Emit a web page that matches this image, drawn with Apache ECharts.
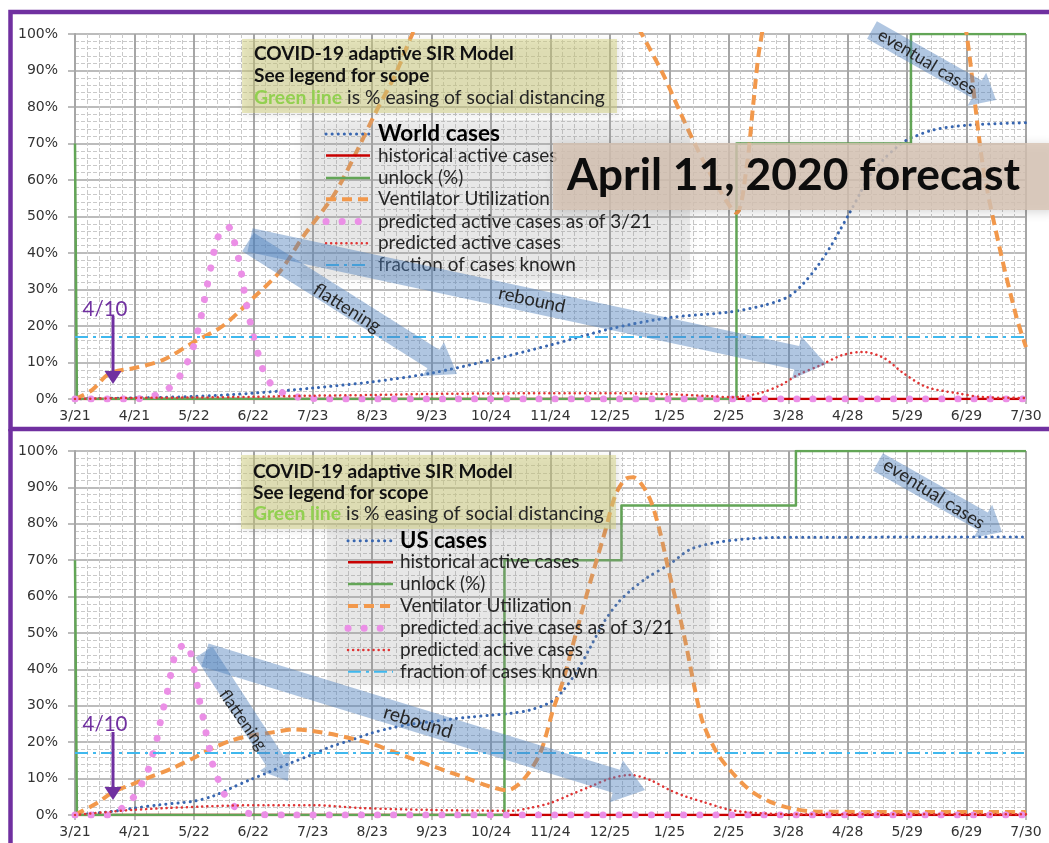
<!DOCTYPE html>
<html><head><meta charset="utf-8">
<script src="https://cdn.jsdelivr.net/npm/echarts@6/dist/echarts.min.js"></script>
<style>html,body{margin:0;padding:0;background:#fff}#c{width:1049px;height:843px}</style>
</head><body><div id="c"></div>
<script>
// ---------------- DATA (x = days since 3/21/2020, y = percent) ----------------
const tickLabels = ['3/21','4/21','5/22','6/22','7/23','8/23','9/23','10/24','11/24','12/25','1/25','2/25','3/28','4/28','5/29','6/29','7/30'];
const dayStep = 31;

// World panel
const worldCases = [[0,0],[31,0.3],[62,0.7],[93,1.6],[124,3],[155,4.7],[186,7.1],[217,10.7],[248,14.8],[279,19.2],[310,22.3],[341,23.8],[358,25.5],[372,28],[380,31.7],[387,36.2],[394,41.7],[399,46.3],[404,51],[409.5,56.4],[413,60],[421.5,65.5],[428.6,69],[434,71],[447.6,73.7],[465,75],[496,75.7]];
const worldHistorical = [[0,0],[496,0]];
const worldUnlock = [[0,70],[1,0],[345,0],[345,70],[436,70],[436,100],[496,100]];
const worldVent = [[0,0],[9,2.5],[18,7],[31,8.5],[46,10.7],[62,15.6],[77,20],[93,27.7],[107,35],[119,44.5],[135,55.9],[146,66.8],[157,78.7],[167,88.8],[176,100],[200,125],[235,140],[270,125],[295.6,100],[306.9,88.8],[315.6,78.6],[324.3,68.8],[334.7,58.6],[345,51],[350.4,64],[353.7,80.5],[357.3,97],[380,160],[420,180],[455,130],[465,100],[473.6,63.6],[482.5,40.8],[491,22.5],[496,14.2]];
const worldPred321 = [[0,0],[31,0],[38,0.5],[46.4,2],[53,5],[57,8.5],[60.5,12.3],[64.7,20],[67.8,28],[71,36.4],[74.6,44.4],[79.8,47.2],[83,43.3],[86.6,35],[89,27],[92.3,19],[96,11.5],[98.6,7.3],[103,3.6],[109.5,1.4],[117,0.5],[130,0],[496,0]];
const worldPred = [[0,0],[31,0.3],[62,0.4],[93,0.6],[124,0.9],[155,1.1],[186,1.4],[217,1.5],[248,1.6],[279,1.6],[310,1.3],[330,0.8],[343,0.5],[357,1.6],[368,3.8],[377,6.6],[389,9.3],[400,12],[411,12.9],[422,11.2],[432,7.1],[444,3.3],[460,1.6],[474,0.5],[496,0.3]];
const worldKnown = [[0,17],[496,17]];

// US panel
const usCases = [[0,0],[18,0.9],[31,1.9],[44,2.8],[62,3.8],[72,5.2],[81,7.3],[91,9.6],[101.7,11.9],[112,14.2],[122.6,16.4],[133,18.7],[143.5,20.5],[154,22.4],[164,23.8],[175,24.9],[185,25.6],[195.6,26.3],[206,26.9],[216.5,27.4],[227,27.9],[237,28.8],[248,31],[254.6,34.2],[262,39.7],[268.7,46],[275.4,52.6],[282.7,58],[289.6,61.6],[298.4,65.2],[310.4,69],[321,73],[335,74.9],[352,75.9],[373,76.3],[404,76.3],[439,76.4],[496,76.4]];
const usHistorical = [[0,0],[496,0]];
const usUnlock = [[0,70],[1,0],[224,0],[224,70],[285,70],[285,85],[376,85],[376,100],[496,100]];
const usVent = [[0,0],[1,0.3],[11.5,3.3],[19.8,6.3],[28.7,8.2],[39,10.4],[51,12.9],[61.6,15.6],[72,18.4],[82.4,20.6],[92.8,21.9],[103,22.7],[113.7,23.5],[124,23.1],[136.7,21.9],[154,19.7],[168,17],[185,13.7],[202.4,10.5],[216.5,7.8],[225.4,6.8],[233.7,9.6],[242.6,17],[249.3,28.8],[254.6,37],[259.8,47],[265,57],[270,66.3],[276.5,78],[281.7,87.7],[287,92.3],[291,92.8],[296,90.5],[300.5,86],[305,78],[310,66.3],[315.5,54.4],[319,46],[323.4,34.3],[327.6,25.2],[334.9,17],[341.7,12.3],[352,6.8],[362.6,3.6],[373,1.9],[387,0.9],[496,0.8]];
const usPred321 = [[0,0],[18,0],[26,2.5],[31.8,5.7],[35.5,9.3],[38.6,13],[40.7,17],[42.8,21],[44.3,25],[46,29],[48,33.4],[49.5,37.5],[51,41.4],[53.2,45.5],[58.4,46.8],[61,43],[62.5,39],[64,34.8],[65.2,30.7],[66.8,26.8],[68.3,22.7],[70,18.6],[71.5,14.5],[74,10.7],[77,6.6],[81,3.3],[88,0.8],[97.5,0.1],[110,0],[496,0]];
const usPred = [[0,0],[18.3,0.9],[30,1.4],[48,1.9],[65,2.3],[82.4,2.6],[100,2.7],[124,2.7],[150,1.9],[185,1.4],[216.5,1.2],[228.5,1.2],[237,1.9],[248,3.3],[258,5.5],[268.7,7.8],[279,10],[289.6,11],[300,9.6],[310.4,6.8],[319,5],[327.6,3.6],[341.7,1.4],[357,0.5],[378,0.2],[496,0.2]];
const usKnown = [[0,17],[496,17]];

const legendNames = ['historical active cases','unlock (%)','Ventilator Utilization','predicted active cases as of 3/21','predicted active cases','fraction of cases known'];

// ---------------- STYLES ----------------
const STY = {
  cases:  {color:'#3866b0', width:3,   type:[0.1,6],  cap:'round', smooth:0.3},
  hist:   {color:'#c80000', width:2.5, type:'solid',  cap:'butt',  smooth:false},
  unlock: {color:'#62a556', width:2.5, type:'solid',  cap:'butt',  smooth:false},
  vent:   {color:'#f2984b', width:4,   type:[10,6],   cap:'butt',  smooth:0.3},
  pred321:{color:'#eb8fe6', width:7,   type:[0.1,16], cap:'round', smooth:0.3},
  pred:   {color:'#e03434', width:2.5, type:[0.1,5],  cap:'round', smooth:0.3},
  known:  {color:'#3fb8ee', width:2,   type:[13,5,3,5], cap:'butt', smooth:false}
};
const order = ['cases','hist','unlock','vent','pred321','pred','known'];

function mkSeries(name, data, gi, key){
  const s = STY[key];
  return {type:'line', name, data, xAxisIndex:gi, yAxisIndex:gi, showSymbol:false, symbol:'none',
    smooth:s.smooth, clip:true, silent:true, animation:false,
    lineStyle:{color:s.color, width:s.width, type:s.type, cap:s.cap, join:'round'}};
}
const panels = [
  {title:'World cases', sets:[worldCases,worldHistorical,worldUnlock,worldVent,worldPred321,worldPred,worldKnown]},
  {title:'US cases', sets:[usCases,usHistorical,usUnlock,usVent,usPred321,usPred,usKnown]}
];
const series = [];
panels.forEach((p,gi)=>{
  p.sets.forEach((d,i)=>series.push(mkSeries(i===0?p.title:legendNames[i-1], d, gi, order[i])));
});

// ---------------- AXES ----------------
const GRID_LINE = '#a6a6a6';
const MINOR = {show:true, lineStyle:{color:'#c9c9c9', width:1, type:[4,2]}};
const AXIS_FONT = {color:'#333', fontFamily:'"DejaVu Sans", Verdana, sans-serif', fontSize:14};
function xAxis(gi){
  return {type:'value', gridIndex:gi, min:0, max:dayStep*(tickLabels.length-1), interval:dayStep,
    axisLine:{show:true, onZero:false, lineStyle:{color:GRID_LINE, width:1.5}},
    axisTick:{show:true, length:5, lineStyle:{color:GRID_LINE, width:1.5}},
    minorTick:{show:false, splitNumber:5},
    minorSplitLine:MINOR,
    splitLine:{show:true, lineStyle:{color:GRID_LINE, width:2}},
    axisLabel:Object.assign({formatter:v=>tickLabels[Math.round(v/dayStep)], margin:10}, AXIS_FONT)};
}
function yAxis(gi){
  return {type:'value', gridIndex:gi, min:0, max:100, interval:10,
    axisLine:{show:true, lineStyle:{color:GRID_LINE, width:2}},
    axisTick:{show:true, length:7, lineStyle:{color:GRID_LINE, width:1.5}},
    minorTick:{show:false, splitNumber:5},
    minorSplitLine:MINOR,
    splitLine:{show:true, lineStyle:{color:GRID_LINE, width:1.5}},
    axisLabel:Object.assign({formatter:'{value}%', margin:17}, AXIS_FONT)};
}

// ---------------- TEXT FITTING ----------------
const FAM = 'Lato';
const mctx = document.createElement('canvas').getContext('2d');
function tw(text, weight){ mctx.font = weight + ' 100px ' + FAM; return mctx.measureText(text).width; }
function fit(segs, target){ let t=0; segs.forEach(s=>t+=tw(s[0], s[1])); return 100*target/t; }

// ---------------- OVERLAYS ----------------
const G = [];
function txt(x,y,text,size,opts={}){
  G.push({type:'text', z:opts.z||30, silent:true, x, y, rotation:opts.rot||0,
    style:{text, fontFamily:FAM, fontSize:size, fontWeight:opts.weight||'normal', fill:opts.fill||'#262626',
      align:opts.align||'left', verticalAlign:'middle', rich:opts.rich}});
}
function rect(x,y,w,h,fill,z,blur){
  G.push({type:'rect', z, silent:true, shape:{x,y,width:w,height:h},
    style:{fill, shadowBlur:blur||0, shadowColor:'rgba(0,0,0,0.2)', shadowOffsetX:2, shadowOffsetY:2}});
}
function sample(x1,x2,y,key,z){
  const s = STY[key];
  G.push({type:'line', z, silent:true, shape:{x1,y1:y,x2,y2:y},
    style:{stroke:s.color, lineWidth:s.width, lineDash:Array.isArray(s.type)?s.type:null, lineCap:s.cap}});
}
function arrow(x1,y1,x2,y2,sw,hw,hl){
  const dx=x2-x1, dy=y2-y1, L=Math.hypot(dx,dy), ux=dx/L, uy=dy/L, px=-uy, py=ux;
  const bx=x2-ux*hl, by=y2-uy*hl;
  G.push({type:'polygon', z:25, silent:true, shape:{points:[
    [x1+px*sw/2,y1+py*sw/2],[bx+px*sw/2,by+py*sw/2],[bx+px*hw/2,by+py*hw/2],[x2,y2],
    [bx-px*hw/2,by-py*hw/2],[bx-px*sw/2,by-py*sw/2],[x1-px*sw/2,y1-py*sw/2]]},
    style:{fill:'rgba(79,129,189,0.45)'}});
}
const deg = Math.PI/180;

// purple frames
G.push({type:'polyline', z:40, silent:true, shape:{points:[[1049,12],[10.5,12],[10.5,429],[1049,429]]}, style:{stroke:'#7030a0', lineWidth:4.5, fill:null}});
G.push({type:'line', z:40, silent:true, shape:{x1:10.5,y1:429,x2:10.5,y2:843}, style:{stroke:'#7030a0', lineWidth:4.5}});

// title boxes
const t1 = 'COVID-19 adaptive SIR Model', t2 = 'See legend for scope', t3a = 'Green line', t3b = ' is % easing of social distancing';
const sT1 = fit([[t1,'bold']], 260);
const sT3 = fit([[t3a,'bold'],[t3b,'normal']], 351);
[[242,39,54,76,97.7,254],[241,455,471.7,492.7,514,253]].forEach(b=>{
  rect(b[0],b[1],375,74,'rgba(214,211,130,0.5)',28,8);
  txt(b[5],b[2],t1,sT1,{weight:'bold',fill:'#111',z:29});
  txt(b[5],b[3],t2,sT1,{weight:'bold',fill:'#111',z:29});
  txt(b[5],b[4],'{g|'+t3a+'}{n|'+t3b+'}',sT3,{z:29,rich:{
    g:{fill:'#92d050',fontWeight:'bold',fontSize:sT3,fontFamily:FAM},
    n:{fill:'#262626',fontWeight:'normal',fontSize:sT3,fontFamily:FAM}}});
});

// legend boxes
const sLeg = fit([['predicted active cases as of 3/21','normal']], 274);
const legBoxes = [
  {box:[300,120,390,160], sx1:326, sx2:370, tx:378, ys:[134,155.5,178,199.3,221.5,243.3,265], head:panels[0].title, headW:122},
  {box:[327,525,383,160], sx1:348, sx2:393, tx:400, ys:[540.7,562.3,584,606,628.3,650,671.7], head:panels[1].title, headW:87}
];
legBoxes.forEach(L=>{
  rect(L.box[0],L.box[1],L.box[2],L.box[3],'rgba(175,175,175,0.2)',20,12);
  order.forEach((k,i)=>{
    sample(L.sx1,L.sx2,L.ys[i],k,21);
    if(i===0) txt(L.tx,L.ys[i],L.head,fit([[L.head,'bold']],L.headW),{weight:'bold',fill:'#000',z:21});
    else txt(L.tx,L.ys[i],legendNames[i-1],sLeg,{fill:'#262626',z:21});
  });
});

// forecast banner
rect(553,143,500,67,'rgba(216,196,180,0.82)',26,10);
txt(567,176,'April 11, 2020 forecast',fit([['April 11, 2020 forecast','bold']],453),{weight:'bold',fill:'#0d0d0d',z:27});

// blue annotation arrows and their labels
arrow(248,242,457,374,22,40,28);
arrow(250,240,826,364,24,44,30);
arrow(872,30,996,100,20,38,22);
arrow(204,652,288,781,20,36,24);
arrow(205,655,645,790,24,44,30);
arrow(878,462,1002,532,20,38,22);
const arrowLabels = [
  ['flattening',347,308,-32,76],['rebound',532,300,-12,68],['eventual cases',927,62,-31,111],
  ['flattening',243,720,-55,70],['rebound',418,722,-17,71],['eventual cases',934,494,-32,116]
];
arrowLabels.forEach(a=>txt(a[1],a[2],a[0],fit([[a[0],'normal']],a[4]),{align:'center',rot:a[3]*deg,fill:'#262626',z:26}));

// "4/10" markers
const s410 = fit([['4/10','normal']],45);
[[309,316,371,384],[724.5,732,787,800]].forEach(m=>{
  txt(105,m[0],'4/10',s410,{align:'center',fill:'#7030a0',z:30});
  G.push({type:'line', z:30, silent:true, shape:{x1:113,y1:m[1],x2:113,y2:m[2]+1}, style:{stroke:'#7030a0', lineWidth:3}});
  G.push({type:'polygon', z:30, silent:true, shape:{points:[[104.5,m[2]],[121.5,m[2]],[113,m[3]]]}, style:{fill:'#7030a0'}});
});

// ---------------- CHART ----------------
const chart = echarts.init(document.getElementById('c'), null, {renderer:'canvas'});
chart.setOption({
  animation:false,
  backgroundColor:'#ffffff',
  grid:[{left:75, top:34, width:951, height:365}, {left:75, top:451, width:951, height:364}],
  xAxis:[xAxis(0), xAxis(1)],
  yAxis:[yAxis(0), yAxis(1)],
  series,
  graphic:{elements:G}
});
</script></body></html>
